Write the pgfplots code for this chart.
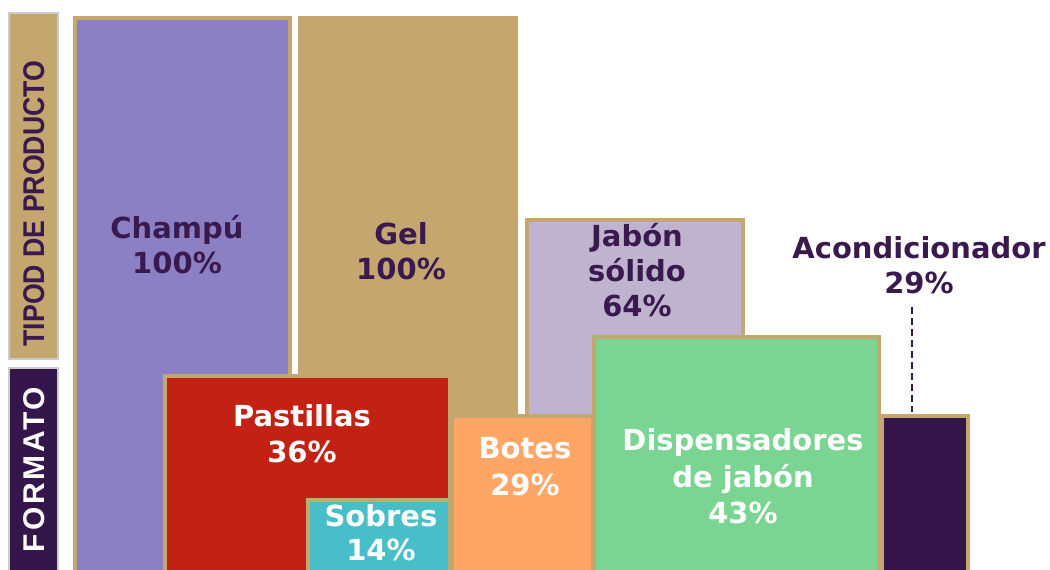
\documentclass[border=0pt]{standalone}
\usepackage{fontspec}
\setmainfont{DejaVu Sans}
\newfontfamily\sidefont{Liberation Sans}
\newfontfamily\sidefontwide{Liberation Sans}[LetterSpace=9]
\usepackage{pgfplots}
\pgfplotsset{compat=1.18}
\definecolor{tanb}{HTML}{C3A76F}
\definecolor{ink}{HTML}{3A1A4E}
\definecolor{champu}{HTML}{8B80C3}
\definecolor{jabon}{HTML}{C0B3CF}
\definecolor{pastillas}{HTML}{C22114}
\definecolor{sobres}{HTML}{48BFC8}
\definecolor{botes}{HTML}{FFA666}
\definecolor{dispens}{HTML}{7AD492}
\definecolor{acond}{HTML}{34164A}
\tikzset{lbl/.style={anchor=base, inner sep=0pt, font=\fontsize{14.5}{17}\selectfont\bfseries}}

\begin{document}
\begin{tikzpicture}
\useasboundingbox (0,0) rectangle (525pt,284.5pt);
\begin{axis}[
  scale only axis, width=525pt, height=284.5pt,
  at={(0,0)}, anchor=south west, hide axis,
  xmin=0, xmax=1050, ymin=1.607, ymax=103.21,
  every axis plot/.append style={draw=tanb, line width=2pt, line join=miter, mark=none}]

% tipo de producto
\addplot[fill=champu] coordinates {(75,0) (75,100) (290,100) (290,0)} --cycle;
\addplot[fill=tanb]   coordinates {(300,0) (300,100) (516,100) (516,0)} --cycle;
\addplot[fill=jabon]  coordinates {(527,0) (527,64) (743,64) (743,0)} --cycle;
\addplot[fill=acond]  coordinates {(882,0) (882,29) (968,29) (968,0)} --cycle;
% formato
\addplot[fill=pastillas] coordinates {(165,0) (165,36) (450,36) (450,0)} --cycle;
\addplot[fill=sobres]    coordinates {(308,0) (308,14) (450,14) (450,0)} --cycle;
\addplot[fill=botes]     coordinates {(452,0) (452,29) (593,29) (593,0)} --cycle;
\addplot[fill=dispens]   coordinates {(594,0) (594,43) (879,43) (879,0)} --cycle;

\addplot[draw=ink, line width=1pt, dash pattern=on 3.5pt off 2pt] coordinates {(912,48.39) (912,29.6)};

% side boxes
\filldraw[fill=tanb, draw=gray!40, line width=0.75pt] (axis cs:9,100.89) rectangle (axis cs:58,39.11);
\filldraw[fill=acond, draw=gray!40, line width=0.75pt] (axis cs:9,37.5) rectangle (axis cs:58,-2);
\node[rotate=90, anchor=base, inner sep=0pt, text=ink, font=\sidefont\bfseries\fontsize{15}{18}\selectfont] at (axis cs:44,66.88) {\scalebox{0.89}[1]{TIPOD DE PRODUCTO}};
\node[rotate=90, anchor=base, inner sep=0pt, text=white, font=\sidefontwide\bfseries\fontsize{15}{18}\selectfont] at (axis cs:44,19.38) {FORMATO};

% labels
\node[lbl, text=ink] at (axis cs:177,60.54) {Champú};
\node[lbl, text=ink] at (axis cs:177,54.29) {100\%};
\node[lbl, text=ink] at (axis cs:401,59.64) {Gel};
\node[lbl, text=ink] at (axis cs:401,53.39) {100\%};
\node[lbl, text=ink] at (axis cs:637,59.11) {Jabón};
\node[lbl, text=ink] at (axis cs:637,52.86) {sólido};
\node[lbl, text=ink] at (axis cs:637,46.61) {64\%};
\node[lbl, text=ink] at (axis cs:919,57.14) {Acondicionador};
\node[lbl, text=ink] at (axis cs:919,50.89) {29\%};
\node[lbl, text=white] at (axis cs:302,27.14) {Pastillas};
\node[lbl, text=white] at (axis cs:302,20.71) {36\%};
\node[lbl, text=white] at (axis cs:381,9.11) {Sobres};
\node[lbl, text=white] at (axis cs:381,3.21) {14\%};
\node[lbl, text=white] at (axis cs:525,21.25) {Botes};
\node[lbl, text=white] at (axis cs:525,14.82) {29\%};
\node[lbl, text=white] at (axis cs:743,22.68) {Dispensadores};
\node[lbl, text=white] at (axis cs:743,16.25) {de jabón};
\node[lbl, text=white] at (axis cs:743,9.82) {43\%};
\end{axis}
\end{tikzpicture}
\end{document}
